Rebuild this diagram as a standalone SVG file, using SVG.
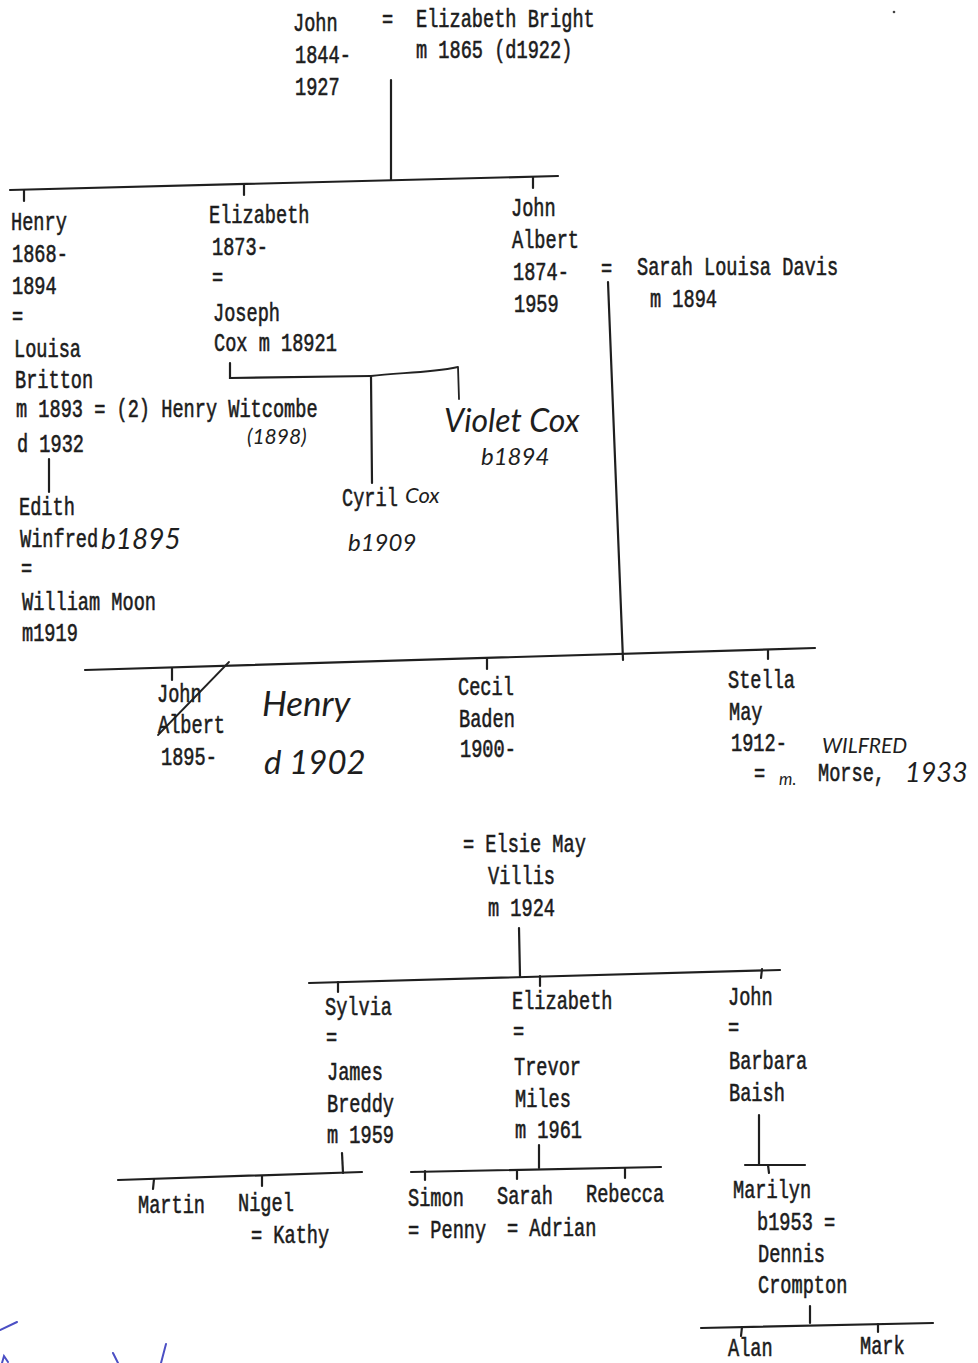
<svg xmlns="http://www.w3.org/2000/svg" width="978" height="1363" viewBox="0 0 978 1363">
  <style>
    .t { font-family: "Liberation Mono", "DejaVu Sans Mono", monospace; font-size: 26px; fill: #1c1c1c; stroke: #1c1c1c; stroke-width: 0.6; }
    .h { font-family: "Lato", "DejaVu Sans", sans-serif; font-style: italic; font-weight: 400; fill: #1e1e1e; }
    .ln { stroke: #1f1f1f; stroke-width: 2.2; fill: none; stroke-linecap: round; }
    .pen { stroke: #222; stroke-width: 1.8; fill: none; stroke-linecap: round; stroke-linejoin: round; }
    .blue { stroke: #4b4fc4; stroke-width: 2; fill: none; stroke-linecap: round; }
  </style>
  <rect width="978" height="1363" fill="#ffffff"/>

  <!-- lines of descent -->
  <g id="connectors">
    <!-- John = Elizabeth Bright -> children -->
    <path class="ln" d="M391 80 L391 180"/>
    <path class="ln" d="M10 190 L558 176"/>
    <path class="ln" d="M24 190 L24 201"/>
    <path class="ln" d="M244 184 L244 195"/>
    <path class="ln" d="M533 177 L533 188"/>
    <!-- Elizabeth = Joseph Cox -> Cyril, Violet -->
    <path class="ln" d="M230 363 L230 378 L371 376"/>
    <path class="ln" d="M371 376 L372 483"/>
    <path class="pen" d="M371 376 C395 372 425 374 458 367 L459 399"/>
    <!-- Henry = Louisa Britton -> Edith -->
    <path class="ln" d="M49 459 L49 492"/>
    <!-- John Albert = Sarah Louisa Davis -> children -->
    <path class="ln" d="M608 282 L623 660"/>
    <path class="ln" d="M85 670 L815 648"/>
    <path class="ln" d="M172 668 L172 680"/>
    <path class="ln" d="M487 659 L487 669"/>
    <path class="ln" d="M768 650 L768 659"/>
    <path class="pen" d="M229 662 L158 735"/>
    <!-- Cecil = Elsie May Villis -> children -->
    <path class="ln" d="M519 928 L520 976"/>
    <path class="ln" d="M309 983 L780 970"/>
    <path class="ln" d="M338 982 L338 992"/>
    <path class="ln" d="M540 976 L540 986"/>
    <path class="ln" d="M762 969 L761 978"/>
    <!-- Sylvia = James Breddy -> children -->
    <path class="ln" d="M342 1153 L343 1173"/>
    <path class="ln" d="M118 1180 L362 1172"/>
    <path class="ln" d="M154 1179 L153 1189"/>
    <path class="ln" d="M262 1176 L262 1186"/>
    <!-- Elizabeth = Trevor Miles -> children -->
    <path class="ln" d="M539 1145 L539 1168"/>
    <path class="ln" d="M411 1172 L661 1167"/>
    <path class="ln" d="M425 1171 L425 1180"/>
    <path class="ln" d="M517 1170 L517 1179"/>
    <path class="ln" d="M625 1168 L625 1178"/>
    <!-- John = Barbara Baish -> Marilyn -->
    <path class="ln" d="M759 1115 L759 1165"/>
    <path class="ln" d="M745 1165 L805 1165"/>
    <path class="ln" d="M768 1165 L769 1173"/>
    <!-- Marilyn = Dennis Crompton -> children -->
    <path class="ln" d="M810 1306 L810 1323"/>
    <path class="ln" d="M701 1328 L933 1323"/>
    <path class="ln" d="M742 1327 L741 1336"/>
    <path class="ln" d="M878 1324 L878 1332"/>
  </g>

  <g id="john-1844">
    <text class="t" transform="translate(293,31) scale(.716,1)">John</text>
    <text class="t" transform="translate(295,63) scale(.716,1)">1844-</text>
    <text class="t" transform="translate(295,95) scale(.716,1)">1927</text>
    <text class="t" transform="translate(382,27) scale(.716,1)">=</text>
  </g>
  <g id="elizabeth-bright">
    <text class="t" transform="translate(416,27) scale(.716,1)">Elizabeth Bright</text>
    <text class="t" transform="translate(416,58) scale(.716,1)">m 1865 (d1922)</text>
  </g>

  <g id="henry-1868">
    <text class="t" transform="translate(11,230) scale(.716,1)">Henry</text>
    <text class="t" transform="translate(12,262) scale(.716,1)">1868-</text>
    <text class="t" transform="translate(12,294) scale(.716,1)">1894</text>
    <text class="t" transform="translate(12,324) scale(.716,1)">=</text>
    <text class="t" transform="translate(14,357) scale(.716,1)">Louisa</text>
    <text class="t" transform="translate(15,388) scale(.716,1)">Britton</text>
    <text class="t" transform="translate(16,417) scale(.716,1)">m 1893 = (2) Henry Witcombe</text>
    <text class="t" transform="translate(17,452) scale(.716,1)">d 1932</text>
    <text class="h" x="247" y="444" font-size="21">(1898)</text>
  </g>

  <g id="elizabeth-1873">
    <text class="t" transform="translate(209,223) scale(.716,1)">Elizabeth</text>
    <text class="t" transform="translate(212,255) scale(.716,1)">1873-</text>
    <text class="t" transform="translate(212,285) scale(.716,1)">=</text>
    <text class="t" transform="translate(213,321) scale(.716,1)">Joseph</text>
    <text class="t" transform="translate(214,351) scale(.716,1)">Cox m 18921</text>
  </g>

  <g id="john-albert-1874">
    <text class="t" transform="translate(511,216) scale(.716,1)">John</text>
    <text class="t" transform="translate(512,248) scale(.716,1)">Albert</text>
    <text class="t" transform="translate(513,280) scale(.716,1)">1874-</text>
    <text class="t" transform="translate(514,312) scale(.716,1)">1959</text>
    <text class="t" transform="translate(601,276) scale(.716,1)">=</text>
  </g>
  <g id="sarah-louisa-davis">
    <text class="t" transform="translate(637,275) scale(.716,1)">Sarah Louisa Davis</text>
    <text class="t" transform="translate(650,307) scale(.716,1)">m 1894</text>
  </g>

  <g id="violet-cox">
    <text class="h" x="444" y="432" font-size="32">Violet Cox</text>
    <text class="h" x="481" y="465" font-size="24">b1894</text>
  </g>

  <g id="cyril-cox">
    <text class="t" transform="translate(342,506) scale(.716,1)">Cyril</text>
    <text class="h" x="405" y="503" font-size="22">Cox</text>
    <text class="h" x="348" y="551" font-size="24">b1909</text>
  </g>

  <g id="edith-winfred">
    <text class="t" transform="translate(19,515) scale(.716,1)">Edith</text>
    <text class="t" transform="translate(20,547) scale(.716,1)">Winfred</text>
    <text class="h" x="101" y="549" font-size="28">b1895</text>
    <text class="t" transform="translate(21,576) scale(.716,1)">=</text>
    <text class="t" transform="translate(22,610) scale(.716,1)">William Moon</text>
    <text class="t" transform="translate(22,641) scale(.716,1)">m1919</text>
  </g>

  <g id="john-albert-1895">
    <text class="t" transform="translate(157,702) scale(.716,1)">John</text>
    <text class="t" transform="translate(158,733) scale(.716,1)">Albert</text>
    <text class="t" transform="translate(161,765) scale(.716,1)">1895-</text>
    <text class="h" x="262" y="716" font-size="35">Henry</text>
    <text class="h" x="264" y="774" font-size="33">d 1902</text>
  </g>

  <g id="cecil-baden">
    <text class="t" transform="translate(458,695) scale(.716,1)">Cecil</text>
    <text class="t" transform="translate(459,727) scale(.716,1)">Baden</text>
    <text class="t" transform="translate(460,757) scale(.716,1)">1900-</text>
  </g>

  <g id="stella-may">
    <text class="t" transform="translate(728,688) scale(.716,1)">Stella</text>
    <text class="t" transform="translate(729,720) scale(.716,1)">May</text>
    <text class="t" transform="translate(731,751) scale(.716,1)">1912-</text>
    <text class="h" x="822" y="753" font-size="21">WILFRED</text>
    <text class="t" transform="translate(754,781) scale(.716,1)">=</text>
    <text class="h" x="779" y="785" font-size="17">m.</text>
    <text class="t" transform="translate(818,781) scale(.716,1)">Morse,</text>
    <text class="h" x="905" y="782" font-size="27">1933</text>
  </g>

  <g id="elsie-may-willis">
    <text class="t" transform="translate(463,852) scale(.716,1)">= Elsie May</text>
    <text class="t" transform="translate(488,884) scale(.716,1)">Villis</text>
    <text class="t" transform="translate(488,916) scale(.716,1)">m 1924</text>
  </g>

  <g id="sylvia">
    <text class="t" transform="translate(325,1015) scale(.716,1)">Sylvia</text>
    <text class="t" transform="translate(326,1045) scale(.716,1)">=</text>
    <text class="t" transform="translate(327,1080) scale(.716,1)">James</text>
    <text class="t" transform="translate(327,1112) scale(.716,1)">Breddy</text>
    <text class="t" transform="translate(327,1143) scale(.716,1)">m 1959</text>
  </g>

  <g id="elizabeth-miles">
    <text class="t" transform="translate(512,1009) scale(.716,1)">Elizabeth</text>
    <text class="t" transform="translate(513,1039) scale(.716,1)">=</text>
    <text class="t" transform="translate(514,1075) scale(.716,1)">Trevor</text>
    <text class="t" transform="translate(515,1107) scale(.716,1)">Miles</text>
    <text class="t" transform="translate(515,1138) scale(.716,1)">m 1961</text>
  </g>

  <g id="john-baish">
    <text class="t" transform="translate(728,1005) scale(.716,1)">John</text>
    <text class="t" transform="translate(728,1035) scale(.716,1)">=</text>
    <text class="t" transform="translate(729,1069) scale(.716,1)">Barbara</text>
    <text class="t" transform="translate(729,1101) scale(.716,1)">Baish</text>
  </g>

  <g id="martin">
    <text class="t" transform="translate(138,1213) scale(.716,1)">Martin</text>
  </g>
  <g id="nigel">
    <text class="t" transform="translate(238,1211) scale(.716,1)">Nigel</text>
    <text class="t" transform="translate(251,1243) scale(.716,1)">= Kathy</text>
  </g>

  <g id="simon">
    <text class="t" transform="translate(408,1206) scale(.716,1)">Simon</text>
    <text class="t" transform="translate(408,1238) scale(.716,1)">= Penny</text>
  </g>
  <g id="sarah">
    <text class="t" transform="translate(497,1204) scale(.716,1)">Sarah</text>
    <text class="t" transform="translate(507,1236) scale(.716,1)">= Adrian</text>
  </g>
  <g id="rebecca">
    <text class="t" transform="translate(586,1202) scale(.716,1)">Rebecca</text>
  </g>

  <g id="marilyn">
    <text class="t" transform="translate(733,1198) scale(.716,1)">Marilyn</text>
    <text class="t" transform="translate(757,1230) scale(.716,1)">b1953 =</text>
    <text class="t" transform="translate(758,1262) scale(.716,1)">Dennis</text>
    <text class="t" transform="translate(758,1293) scale(.716,1)">Crompton</text>
  </g>

  <g id="alan">
    <text class="t" transform="translate(728,1356) scale(.716,1)">Alan</text>
  </g>
  <g id="mark">
    <text class="t" transform="translate(860,1354) scale(.716,1)">Mark</text>
  </g>

  <!-- blue pen strokes at the lower left edge -->
  <g id="pen-marks">
    <path class="blue" d="M0 1330 L17 1322"/>
    <path class="blue" d="M2 1363 L4 1356 L8 1362"/>
    <path class="blue" d="M113 1353 L118 1363"/>
    <path class="blue" d="M166 1344 L161 1363"/>
    <circle cx="894" cy="12" r="1.3" fill="#444"/>
  </g>
</svg>
